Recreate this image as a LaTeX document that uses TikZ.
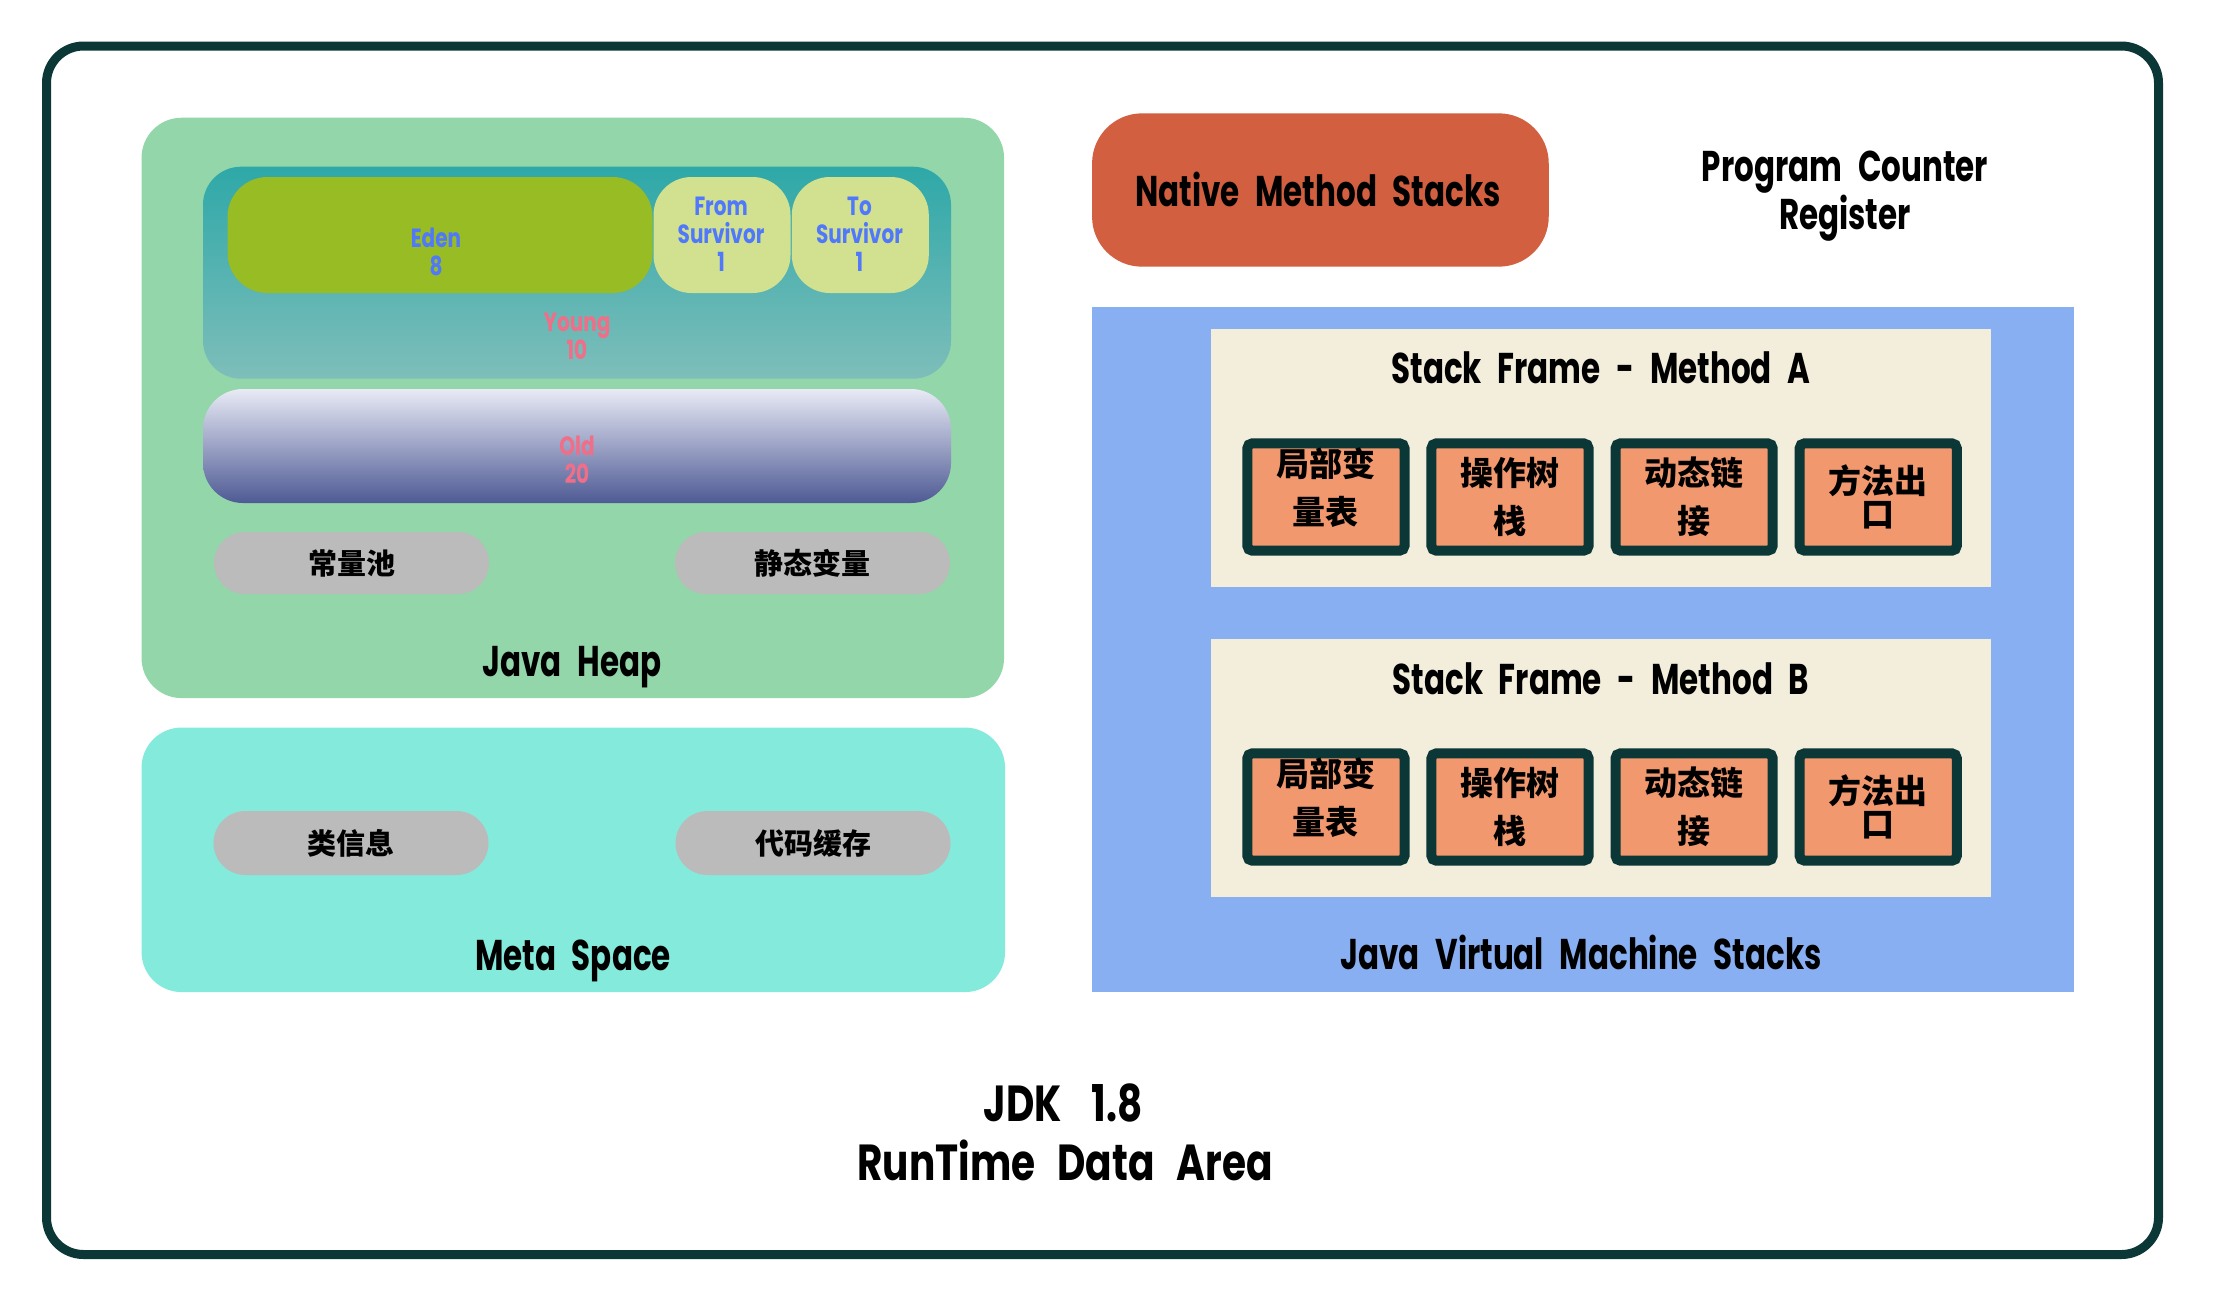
\documentclass[tikz,border=0pt]{standalone}
\usepackage{fontspec}
\newfontfamily\titlefont{Poppins}[FakeStretch=0.72, WordSpace=2.4]
\newfontfamily\bigfont{Poppins}[FakeStretch=0.77]
\newfontfamily\lblfont{Poppins}[FakeStretch=0.76, WordSpace=1.5]
\newfontfamily\cjk{Noto Sans CJK SC}
\definecolor{edge}{RGB}{11,55,55}
\definecolor{heapg}{RGB}{146,214,169}
\definecolor{youngtop}{RGB}{46,168,168}
\definecolor{youngbot}{RGB}{126,190,186}
\definecolor{edeng}{RGB}{152,188,36}
\definecolor{survg}{RGB}{210,225,144}
\definecolor{lblue}{RGB}{80,120,250}
\definecolor{lpink}{RGB}{240,110,135}
\definecolor{oldtop}{RGB}{232,234,245}
\definecolor{oldmid}{RGB}{160,172,214}
\definecolor{oldbot}{RGB}{78,90,148}
\definecolor{pillg}{RGB}{187,187,187}
\definecolor{metac}{RGB}{132,234,219}
\definecolor{nativec}{RGB}{210,95,64}
\definecolor{jvmblue}{RGB}{137,175,243}
\definecolor{framec}{RGB}{243,237,220}
\definecolor{slotc}{RGB}{242,152,110}
\tikzset{
  area/.style={inner sep=0pt, outer sep=0pt, draw=none},
  title/.style={font=\titlefont\bfseries\fontsize{12.9}{15}\selectfont, inner sep=0pt, anchor=base},
  bigtitle/.style={font=\bigfont\bfseries\fontsize{15.2}{17}\selectfont, inner sep=0pt, anchor=base},
  small/.style={font=\lblfont\bfseries\fontsize{7.9}{8.4}\selectfont, align=center, inner sep=0pt},
  pill/.style={fill=pillg, rounded corners=9.3pt, inner sep=0pt, minimum width=82.5pt, minimum height=18.6pt, font=\cjk\bfseries\fontsize{8.7}{10}\selectfont},
  slot/.style={fill=slotc, draw=edge, line width=3pt, minimum width=47.16pt, minimum height=32.22pt, rounded corners=1.5pt, inner sep=0pt},
  slottxt/.style={font=\cjk\bfseries\fontsize{9.9}{14.4}\selectfont, align=center, inner sep=0pt},
  slottxtb/.style={font=\cjk\bfseries\fontsize{9.9}{9.9}\selectfont, align=center, inner sep=0pt},
}
\begin{document}
\begin{tikzpicture}[x=0.3pt,y=-0.3pt]
\useasboundingbox (0,0) rectangle (2218,1299);
\fill[white] (0,0) rectangle (2218,1299);
% outer frame
\node[area, draw=edge, line width=2.7pt, rounded corners=11.1pt, minimum width=633.6pt, minimum height=362.55pt] (outer) at (1102.5,650.25) {};
% Java heap
\node[area, fill=heapg, rounded corners=12pt, minimum width=258.75pt, minimum height=174.1pt] (heap) at (572.8,407.9) {};
\node[area, top color=youngtop, bottom color=youngbot, rounded corners=11.4pt, minimum width=224.4pt, minimum height=63.6pt] (young) at (577,272.7) {};
\node[area, fill=edeng, rounded corners=12pt, minimum width=127.5pt, minimum height=34.8pt] (eden) at (440,235) {};
\node[area, fill=survg, rounded corners=11.4pt, minimum width=41.1pt, minimum height=34.8pt] (from) at (722,235) {};
\node[area, fill=survg, rounded corners=11.4pt, minimum width=41.1pt, minimum height=34.8pt] (to) at (860.3,235) {};
\node[small, text=lblue] (edenT) at (436,251.5) {Eden\\8};
\node[small, text=lblue] (fromT) at (721,234) {From\\Survivor\\1};
\node[small, text=lblue] (toT) at (859.5,234) {To\\Survivor\\1};
\node[small, text=lpink] (youngT) at (577,336) {Young\\10};
\node[area, top color=oldtop, middle color=oldmid, bottom color=oldbot, rounded corners=12pt, minimum width=224.4pt, minimum height=34.2pt] (old) at (577,446) {};
\node[small, text=lpink] (oldT) at (577,460) {Old\\20};
\node[pill] (pool) at (351.5,563) {常量池};
\node[pill] (static) at (812.5,563) {静态变量};
\node[title] (heapT) at (572,676) {Java Heap};
% Meta space
\node[area, fill=metac, rounded corners=12pt, minimum width=259.05pt, minimum height=79.35pt] (meta) at (573.3,859.8) {};
\node[pill, minimum height=19.2pt, rounded corners=9.6pt] (cls) at (351,843) {类信息};
\node[pill, minimum height=19.2pt, rounded corners=9.6pt] (code) at (813,843) {代码缓存};
\node[title] (metaT) at (573,970) {Meta Space};
% Native method stacks
\node[area, fill=nativec, rounded corners=15pt, minimum width=137pt, minimum height=46pt] (native) at (1320.4,190) {};
\node[title] (nativeT) at (1318,206) {Native Method Stacks};
% Program counter
\node[title] (pc1) at (1845,181.7) {Program Counter};
\node[title] (pc2) at (1845,229) {Register};
% JVM stacks
\node[area, fill=jvmblue, minimum width=294.6pt, minimum height=205.4pt] (jvm) at (1583,649.7) {};
\node[area, fill=framec, minimum width=234pt, minimum height=77.3pt] (frameA) at (1601,457.9) {};
\node[title] (frameAT) at (1601,383.3) {Stack Frame - Method A};
\node[slot] (a1) at (1325.9,497) {};
\node[slot] (a2) at (1510,497) {};
\node[slot] (a3) at (1694.1,497) {};
\node[slot] (a4) at (1878.2,497) {};
\node[slottxt] (a1T) at ([yshift=2.85pt]a1.center) {局部变\\量表};
\node[slottxt] (a2T) at (a2.center) {操作树\\栈};
\node[slottxt] (a3T) at (a3.center) {动态链\\接};
\node[slottxtb] (a4T) at (a4.center) {方法出\\口};
\node[area, fill=framec, minimum width=234pt, minimum height=77.3pt] (frameB) at (1601,767.9) {};
\node[title] (frameBT) at (1601,694) {Stack Frame - Method B};
\node[slot] (b1) at (1325.9,807) {};
\node[slot] (b2) at (1510,807) {};
\node[slot] (b3) at (1694.1,807) {};
\node[slot] (b4) at (1878.2,807) {};
\node[slottxt] (b1T) at ([yshift=2.85pt]b1.center) {局部变\\量表};
\node[slottxt] (b2T) at (b2.center) {操作树\\栈};
\node[slottxt] (b3T) at (b3.center) {动态链\\接};
\node[slottxtb] (b4T) at (b4.center) {方法出\\口};
\node[title] (jvmT) at (1581,969.3) {Java Virtual Machine Stacks};
% Footer
\node[bigtitle] (jdk1) at (1063,1121.7) {JDK\hspace{9pt}1.8};
\node[bigtitle] (jdk2) at (1065,1180) {RunTime\hspace{6.6pt}Data\hspace{6.6pt}Area};
\end{tikzpicture}
\end{document}
